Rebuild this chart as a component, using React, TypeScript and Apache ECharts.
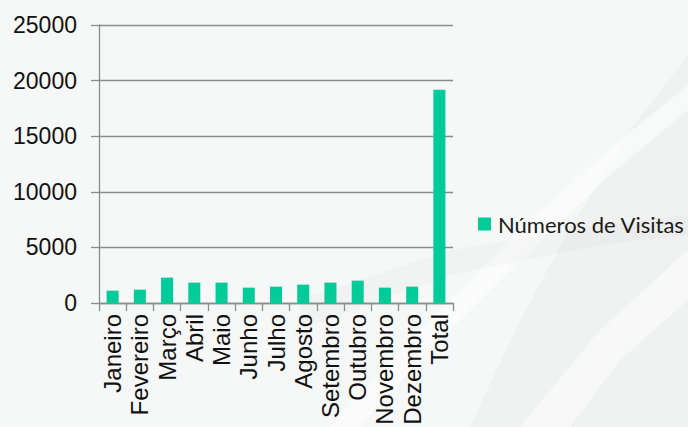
import React, { useEffect, useRef } from "react";
import * as echarts from "echarts";

const categories = [
  "Janeiro",
  "Fevereiro",
  "Março",
  "Abril",
  "Maio",
  "Junho",
  "Julho",
  "Agosto",
  "Setembro",
  "Outubro",
  "Novembro",
  "Dezembro",
  "Total",
];
const visitas = [1110, 1200, 2280, 1830, 1830, 1380, 1470, 1650, 1830, 2010, 1380, 1470, 19180];
const seriesName = "Números de Visitas";
const yTicks = { min: 0, max: 25000, interval: 5000 };

export default function App() {
  const ref = useRef<HTMLDivElement>(null);
  useEffect(() => {
    if (!ref.current) return;
    const chart = echarts.init(ref.current, undefined, { renderer: "svg" });
    const axisGray = "#8c8c8c";
    chart.setOption({
      animation: false,
      backgroundColor: "#f6f7f7",
      graphic: [
        {
          type: "polygon",
          silent: true,
          z: -10,
          shape: {
            points: [
              [470, 427],
              [520, 320],
              [575, 220],
              [630, 130],
              [688, 55],
              [688, 427],
            ],
          },
          style: { fill: "rgba(0,0,0,0.025)" },
        },
        {
          type: "polygon",
          silent: true,
          z: -10,
          shape: {
            points: [
              [330, 427],
              [420, 330],
              [520, 230],
              [620, 140],
              [688, 85],
              [688, 110],
              [610, 175],
              [510, 270],
              [420, 360],
              [360, 427],
            ],
          },
          style: { fill: "rgba(255,255,255,0.55)" },
        },
        {
          type: "polygon",
          silent: true,
          z: -10,
          shape: {
            points: [
              [300, 300],
              [450, 250],
              [600, 225],
              [688, 215],
              [688, 235],
              [600, 245],
              [450, 275],
              [300, 330],
            ],
          },
          style: { fill: "rgba(0,0,0,0.018)" },
        },
        {
          type: "polygon",
          silent: true,
          z: -10,
          shape: {
            points: [
              [520, 427],
              [600, 330],
              [688, 250],
              [688, 300],
              [620, 360],
              [570, 427],
            ],
          },
          style: { fill: "rgba(255,255,255,0.5)" },
        },
      ],
      grid: { left: 99, right: 235, top: 25, bottom: 124, outerBoundsMode: "none" },
      legend: {
        data: [seriesName],
        orient: "vertical",
        left: 473,
        top: 208,
        icon: "rect",
        itemWidth: 13,
        itemHeight: 13,
        textStyle: {
          fontFamily: "Lato",
          fontSize: 22,
          color: "#1a1a1a",
          padding: [0, 0, 0, 2],
        },
      },
      xAxis: {
        type: "category",
        data: categories,
        axisLine: { show: true, lineStyle: { color: axisGray, width: 1.3 } },
        axisTick: { show: true, length: 8, lineStyle: { color: axisGray, width: 1.3 } },
        axisLabel: {
          rotate: 90,
          interval: 0,
          margin: 11,
          fontFamily: "'Liberation Sans', Arial",
          fontSize: 24,
          color: "#111",
        },
      },
      yAxis: {
        type: "value",
        min: yTicks.min,
        max: yTicks.max,
        interval: yTicks.interval,
        axisLine: { show: true, lineStyle: { color: axisGray, width: 1.3 } },
        axisTick: { show: true, length: 8, lineStyle: { color: axisGray, width: 1.3 } },
        splitLine: { show: true, lineStyle: { color: axisGray, width: 1.3 } },
        axisLabel: {
          margin: 22,
          fontFamily: "'Liberation Sans', Arial",
          fontSize: 23,
          color: "#111",
          formatter: (v: number) => String(v),
        },
      },
      series: [
        {
          name: seriesName,
          type: "bar",
          data: visitas,
          barWidth: 12,
          itemStyle: { color: "#00cc99" },
        },
      ],
    });
    return () => chart.dispose();
  }, []);
  return (
    <div
      ref={ref}
      style={{ position: "fixed", left: 0, top: 0, width: 688, height: 427 }}
    />
  );
}
